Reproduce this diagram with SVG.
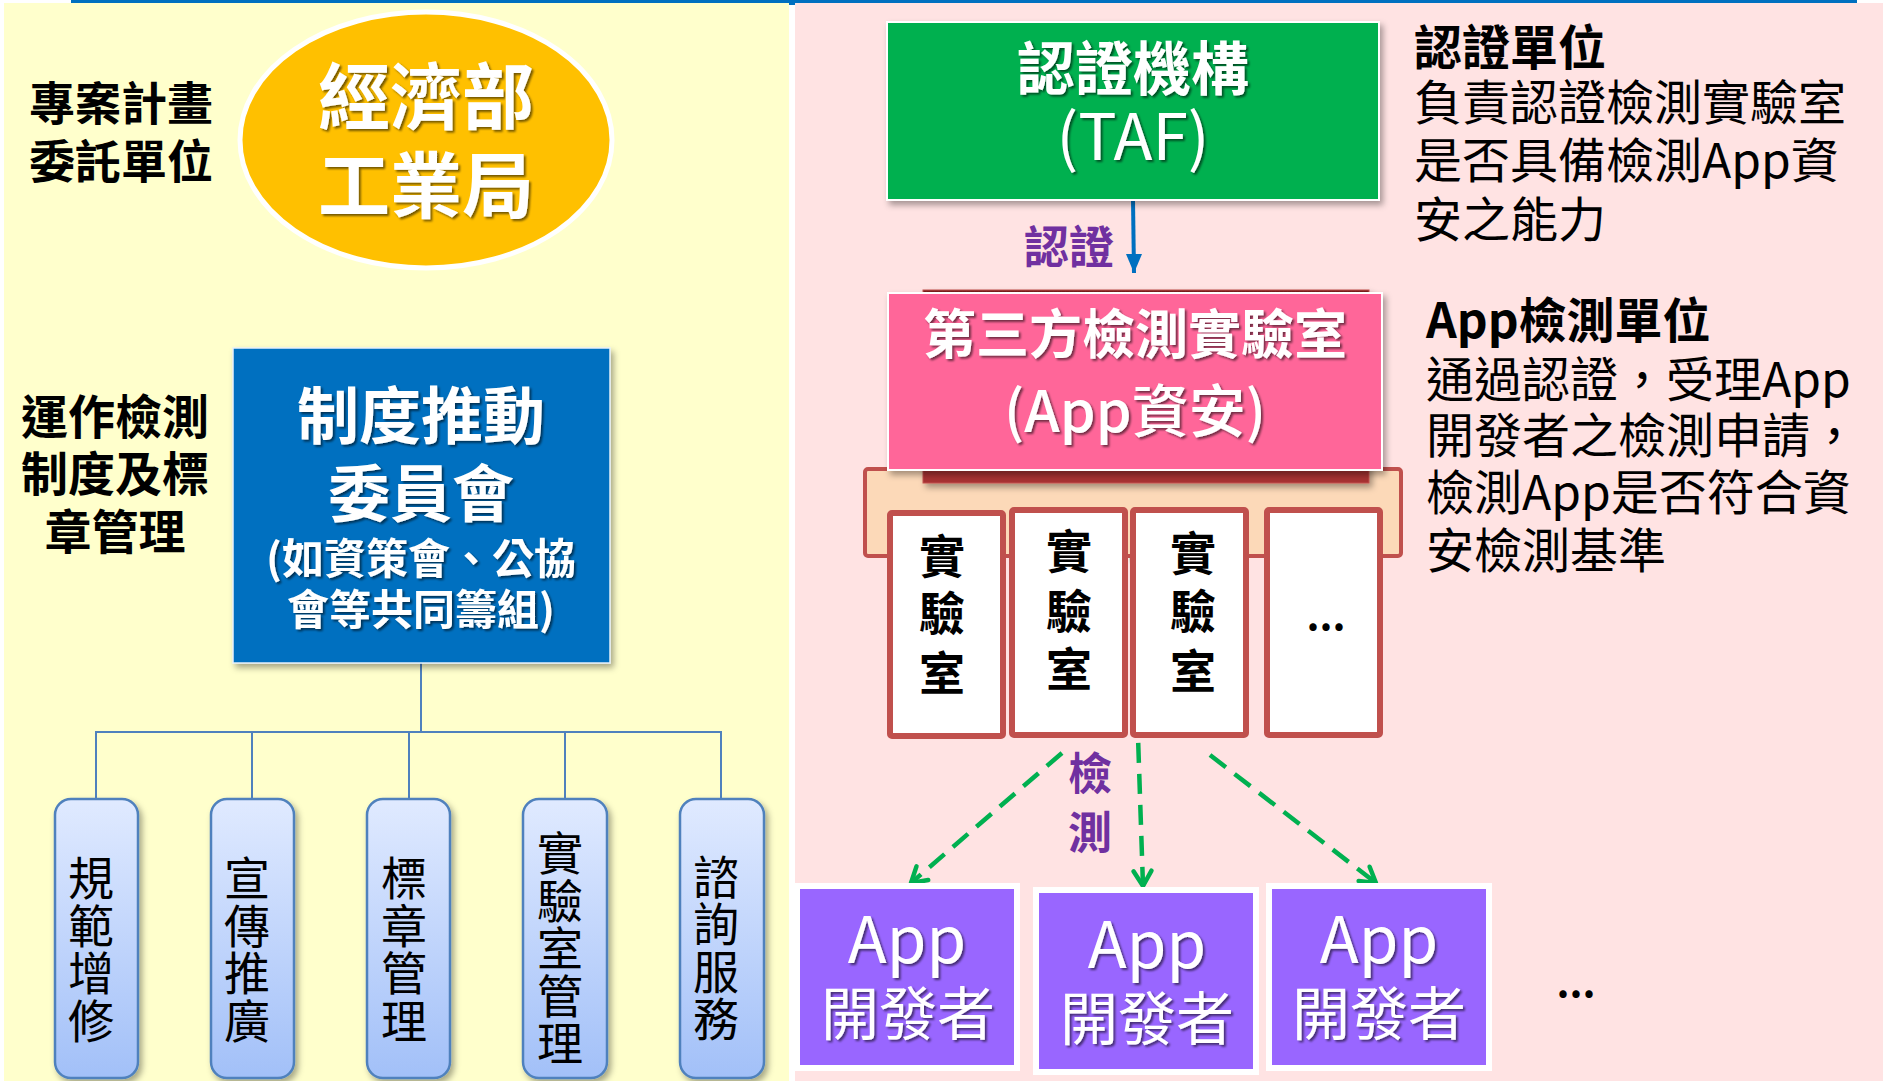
<svg xmlns="http://www.w3.org/2000/svg" width="1883" height="1081" viewBox="0 0 1883 1081">
<style>
.cjk{font-family:"Noto Sans CJK TC","Noto Sans CJK SC","Noto Sans",sans-serif;}
.b{font-weight:700;}
.wt{fill:#FFFFFF;}
.bk{fill:#000000;}
.pu{fill:#7030A0;}
.c{text-anchor:middle;}
.pill{fill:url(#pillGrad);stroke:#4F81BD;stroke-width:2.5;}
.lab{fill:#FFFFFF;stroke:#C0504D;stroke-width:6;}
.tree{fill:none;stroke:#4F81BD;stroke-width:2;}
.dash{fill:none;stroke:#00B050;stroke-width:4.5;stroke-dasharray:20 11;}
.dev{fill:#9966FF;stroke:#FFFFFF;stroke-width:6;}
</style>
<defs>
<linearGradient id="pillGrad" x1="0" y1="0" x2="0" y2="1">
<stop offset="0" stop-color="#E0EAFF"/>
<stop offset="1" stop-color="#A2C0F8"/>
</linearGradient>
<linearGradient id="darkRed" x1="0" y1="0" x2="0" y2="1">
<stop offset="0" stop-color="#7A1F1F"/>
<stop offset="1" stop-color="#A83232"/>
</linearGradient>
<filter id="boxShadow" x="-10%" y="-10%" width="125%" height="125%">
<feDropShadow dx="3" dy="4" stdDeviation="3" flood-color="#000000" flood-opacity="0.35"/>
</filter>
<filter id="txtShadow" x="-10%" y="-10%" width="125%" height="130%">
<feDropShadow dx="2" dy="2" stdDeviation="1.2" flood-color="#000000" flood-opacity="0.55"/>
</filter>
<marker id="openArrow" viewBox="0 0 24 24" refX="20" refY="12" markerWidth="24" markerHeight="24" markerUnits="userSpaceOnUse" orient="auto">
<path d="M5,3 L20,12 L5,21" fill="none" stroke="#00B050" stroke-width="4.5" stroke-dasharray="none" stroke-linecap="round" stroke-linejoin="round"/>
</marker>
<marker id="blueArrow" viewBox="0 0 16 20" refX="8" refY="19" markerWidth="16" markerHeight="20" markerUnits="userSpaceOnUse" orient="0">
<path d="M0,0 L16,0 L8,19 Z" fill="#0070C0"/>
</marker>
</defs>

<!-- panels -->
<g id="panels">
<rect x="0" y="0" width="1883" height="1081" fill="#FFFFFF"/>
<rect x="4" y="3" width="785" height="1078" fill="#FFFFCC"/>
<rect x="795" y="3" width="1088" height="1078" fill="#FFE3E3"/>
<rect x="71" y="0" width="1786" height="3" fill="#0070C0"/>
<rect x="789" y="0" width="6" height="5" fill="#0070C0"/>
</g>

<!-- connectors -->
<g id="connectors">
<path class="tree" d="M421,663 V732 M96,799 V732 H721 V799 M252,732 V799 M409,732 V799 M565,732 V799"/>
<line x1="1133" y1="200" x2="1134" y2="273" stroke="#0070C0" stroke-width="4" marker-end="url(#blueArrow)"/>
<path class="dash" d="M1062,753 L911,883" marker-end="url(#openArrow)"/>
<path class="dash" d="M1132,557 L1143,886" marker-end="url(#openArrow)"/>
<path class="dash" d="M1210,755 L1376,883" marker-end="url(#openArrow)"/>
</g>

<!-- left side labels -->
<g id="label-commission">
<text class="cjk b bk c" font-size="46" x="121" y="120">專案計畫</text>
<text class="cjk b bk c" font-size="46" x="121" y="178">委託單位</text>
</g>
<g id="label-operation">
<text class="cjk b bk c" font-size="47" x="115" y="434">運作檢測</text>
<text class="cjk b bk c" font-size="47" x="115" y="491">制度及標</text>
<text class="cjk b bk c" font-size="47" x="115" y="549">章管理</text>
</g>

<!-- MOEA ellipse -->
<g id="node-moea">
<ellipse cx="426" cy="140" rx="186" ry="128" fill="#FFC000" stroke="#FFFFFF" stroke-width="5"/>
<g filter="url(#txtShadow)">
<text class="cjk b wt c" font-size="72" x="426" y="123">經濟部</text>
<text class="cjk b wt c" font-size="72" x="426" y="212">工業局</text>
</g>
</g>

<!-- committee -->
<g id="node-committee">
<rect x="233" y="348" width="377" height="315" fill="#0070C0" stroke="#E6F0FA" stroke-width="1.5" filter="url(#boxShadow)"/>
<g filter="url(#txtShadow)">
<text class="cjk b wt c" font-size="62" x="421" y="439">制度推動</text>
<text class="cjk b wt c" font-size="62" x="421" y="517">委員會</text>
<text class="cjk b wt c" font-size="42" x="421" y="574">(如資策會、公協</text>
<text class="cjk b wt c" font-size="42" x="421" y="625">會等共同籌組)</text>
</g>
</g>

<!-- pills -->
<g id="node-spec">
<rect class="pill" x="55" y="799" width="83" height="279" rx="16" filter="url(#boxShadow)"/>
<text class="cjk bk c" font-size="46" x="91"><tspan x="91" y="895">規</tspan><tspan x="91" y="943">範</tspan><tspan x="91" y="990">增</tspan><tspan x="91" y="1038">修</tspan></text>
</g>
<g id="node-promo">
<rect class="pill" x="211" y="799" width="83" height="279" rx="16" filter="url(#boxShadow)"/>
<text class="cjk bk c" font-size="46" x="247"><tspan x="247" y="895">宣</tspan><tspan x="247" y="943">傳</tspan><tspan x="247" y="990">推</tspan><tspan x="247" y="1038">廣</tspan></text>
</g>
<g id="node-mark">
<rect class="pill" x="367" y="799" width="83" height="279" rx="16" filter="url(#boxShadow)"/>
<text class="cjk bk c" font-size="46" x="404"><tspan x="404" y="895">標</tspan><tspan x="404" y="943">章</tspan><tspan x="404" y="990">管</tspan><tspan x="404" y="1038">理</tspan></text>
</g>
<g id="node-labmgmt">
<rect class="pill" x="523" y="799" width="84" height="279" rx="16" filter="url(#boxShadow)"/>
<text class="cjk bk c" font-size="46" x="560"><tspan x="560" y="870">實</tspan><tspan x="560" y="918">驗</tspan><tspan x="560" y="965">室</tspan><tspan x="560" y="1013">管</tspan><tspan x="560" y="1060">理</tspan></text>
</g>
<g id="node-consult">
<rect class="pill" x="680" y="799" width="84" height="279" rx="16" filter="url(#boxShadow)"/>
<text class="cjk bk c" font-size="46" x="716"><tspan x="716" y="894">諮</tspan><tspan x="716" y="941">詢</tspan><tspan x="716" y="989">服</tspan><tspan x="716" y="1036">務</tspan></text>
</g>

<!-- TAF -->
<g id="node-taf">
<rect x="887" y="22" width="492" height="178" fill="#00B050" stroke="#FFFFFF" stroke-width="2" filter="url(#boxShadow)"/>
<g filter="url(#txtShadow)">
<text class="cjk b wt c" font-size="58" x="1133" y="90">認證機構</text>
<text class="cjk wt c" font-size="64" x="1133" y="160">(TAF)</text>
</g>
</g>
<g id="label-cert">
<text class="cjk b pu c" font-size="45" x="1069" y="264">認證</text>
</g>

<!-- lab group -->
<g id="node-labgroup">
<rect x="865" y="469" width="536" height="87" rx="3" fill="#FCD9B8" stroke="#C0504D" stroke-width="4"/>
</g>
<g id="node-thirdparty">
<rect x="923" y="290" width="446" height="193" fill="url(#darkRed)" stroke="#C0504D" stroke-width="1" filter="url(#boxShadow)"/>
<rect x="888" y="293" width="494" height="177" fill="#FF6699" stroke="#FFFFFF" stroke-width="2" filter="url(#boxShadow)"/>
<g filter="url(#txtShadow)">
<text class="cjk b wt c" font-size="53" x="1135" y="354">第三方檢測實驗室</text>
<text class="cjk wt c" font-size="57" font-weight="500" x="1135" y="432">(App資安)</text>
</g>
</g>

<g id="node-lab1">
<rect class="lab" x="890" y="513" width="113" height="223" rx="2"/>
<text class="cjk b bk c" font-size="46"><tspan x="942" y="573">實</tspan><tspan x="942" y="630">驗</tspan><tspan x="942" y="690">室</tspan></text>
</g>
<g id="node-lab2">
<rect class="lab" x="1012" y="510" width="113" height="225" rx="2"/>
<text class="cjk b bk c" font-size="46"><tspan x="1069" y="568">實</tspan><tspan x="1069" y="628">驗</tspan><tspan x="1069" y="686">室</tspan></text>
</g>
<g id="node-lab3">
<rect class="lab" x="1133" y="510" width="113" height="225" rx="2"/>
<text class="cjk b bk c" font-size="46"><tspan x="1193" y="570">實</tspan><tspan x="1193" y="628">驗</tspan><tspan x="1193" y="688">室</tspan></text>
</g>
<g id="node-lab4">
<rect class="lab" x="1267" y="510" width="113" height="225" rx="2"/>
<text class="cjk b bk c" font-size="40" x="1326" y="630">...</text>
</g>

<g id="label-test">
<text class="cjk b pu c" font-size="44"><tspan x="1090" y="790">檢</tspan><tspan x="1090" y="849">測</tspan></text>
</g>

<!-- developers -->
<g id="node-dev1">
<rect class="dev" x="797" y="886" width="220" height="182"/>
<g filter="url(#txtShadow)">
<text class="cjk wt c" font-size="64" x="907" y="963">App</text>
<text class="cjk wt c" font-size="58" x="908" y="1035">開發者</text>
</g>
</g>
<g id="node-dev2">
<rect class="dev" x="1036" y="890" width="220" height="182"/>
<g filter="url(#txtShadow)">
<text class="cjk wt c" font-size="64" x="1147" y="968">App</text>
<text class="cjk wt c" font-size="58" x="1147" y="1040">開發者</text>
</g>
</g>
<g id="node-dev3">
<rect class="dev" x="1269" y="886" width="220" height="182"/>
<g filter="url(#txtShadow)">
<text class="cjk wt c" font-size="64" x="1379" y="963">App</text>
<text class="cjk wt c" font-size="58" x="1379" y="1035">開發者</text>
</g>
</g>
<g id="label-more-dev">
<text class="cjk b bk c" font-size="40" x="1576" y="997">...</text>
</g>

<!-- right descriptions -->
<g id="desc-cert">
<text class="cjk b bk" font-size="48" x="1414" y="65">認證單位</text>
<text class="cjk bk" font-size="48" x="1414" y="120">負責認證檢測實驗室</text>
<text class="cjk bk" font-size="48" x="1414" y="178">是否具備檢測App資</text>
<text class="cjk bk" font-size="48" x="1414" y="237">安之能力</text>
</g>
<g id="desc-test">
<text class="cjk b bk" font-size="48" x="1426" y="338">App檢測單位</text>
<text class="cjk bk" font-size="48" x="1426" y="397">通過認證，受理App</text>
<text class="cjk bk" font-size="48" x="1426" y="453">開發者之檢測申請，</text>
<text class="cjk bk" font-size="48" x="1426" y="510">檢測App是否符合資</text>
<text class="cjk bk" font-size="48" x="1426" y="568">安檢測基準</text>
</g>
</svg>
